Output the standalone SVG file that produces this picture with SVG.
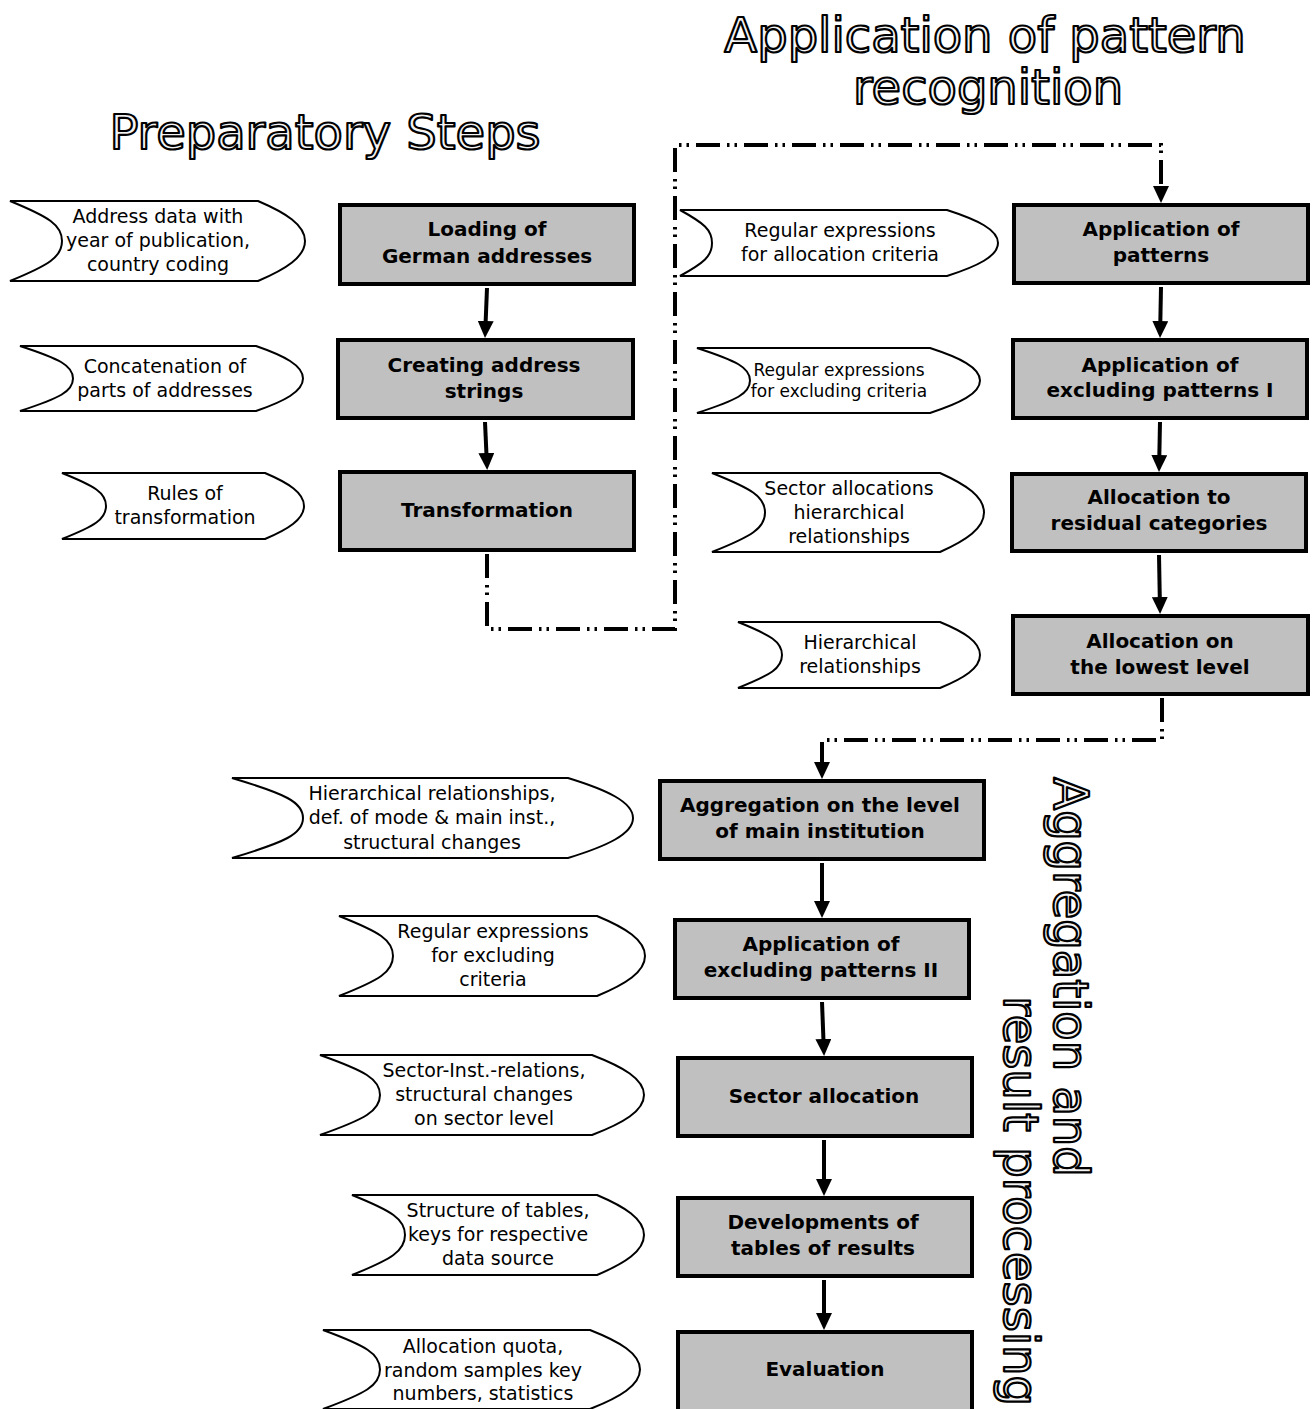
<svg xmlns="http://www.w3.org/2000/svg" width="1314" height="1409" viewBox="0 0 1314 1409">
<style>
.box{fill:#c0c0c0;stroke:#000;stroke-width:4}
.data{fill:#fff;stroke:#000;stroke-width:2}
.bt{font-family:"DejaVu Sans",sans-serif;font-weight:bold;font-size:20px;text-anchor:middle;fill:#000}
.dt{font-family:"DejaVu Sans",sans-serif;font-size:19px;text-anchor:middle;fill:#000}
.dts{font-family:"DejaVu Sans",sans-serif;font-size:17px;text-anchor:middle;fill:#000}
.title{font-family:"DejaVu Sans",sans-serif;font-size:48px;text-anchor:middle;fill:#f4f4f4;stroke:#000;stroke-width:2.2;stroke-linejoin:round}
.solid{fill:none;stroke:#000;stroke-width:4;marker-end:url(#ah)}
.dd{fill:none;stroke:#000;stroke-width:4;stroke-dasharray:24 7 2.5 5 2.5 7;marker-end:url(#ah)}
</style>
<defs>
<marker id="ah" markerUnits="userSpaceOnUse" markerWidth="17" markerHeight="16" viewBox="0 0 17 16" refX="2" refY="8" orient="auto">
<path d="M0,0 L17,8 L0,16 Z" fill="#000"/>
</marker>
</defs>
<rect width="1314" height="1409" fill="#fff"/>

<g id="titles">
<text class="title" x="985" y="52">Application of pattern</text>
<text class="title" x="988" y="104">recognition</text>
<text class="title" x="325" y="149">Preparatory Steps</text>
<text class="title" transform="rotate(90)"><tspan x="977" y="-1054">Aggregation and</tspan><tspan x="1201" y="-1004">result processing</tspan></text>
</g>

<g id="connectors">
<path class="solid" d="M487,288 L485.6,323"/>
<path class="solid" d="M485,422 L486.5,455"/>
<path class="solid" d="M1161,287 L1160.3,323"/>
<path class="solid" d="M1160,422 L1159.3,457"/>
<path class="solid" d="M1159,555 L1159.8,599"/>
<path class="solid" d="M822,863 L822,903"/>
<path class="solid" d="M822,1002 L823.5,1041"/>
<path class="solid" d="M824,1140 L824,1181"/>
<path class="solid" d="M824,1280 L824,1315"/>
<path class="dd" d="M487,554 L487,629 L675,629 L675,145 L1161,145 L1161,188"/>
<path class="dd" d="M1162,698 L1162,740 L822,740 L822,764"/>
</g>

<g id="n1"><rect class="box" x="340" y="205" width="294" height="79"/><text class="bt" x="487" y="236">Loading of</text><text class="bt" x="487" y="263">German addresses</text></g>
<g id="n2"><rect class="box" x="338" y="340" width="295" height="78"/><text class="bt" x="484" y="372">Creating address</text><text class="bt" x="484" y="398">strings</text></g>
<g id="n3"><rect class="box" x="340" y="472" width="294" height="78"/><text class="bt" x="487" y="517">Transformation</text></g>
<g id="n4"><rect class="box" x="1014" y="205" width="294" height="78"/><text class="bt" x="1161" y="236">Application of</text><text class="bt" x="1161" y="262">patterns</text></g>
<g id="n5"><rect class="box" x="1013" y="340" width="294" height="78"/><text class="bt" x="1160" y="372">Application of</text><text class="bt" x="1160" y="397">excluding patterns I</text></g>
<g id="n6"><rect class="box" x="1012" y="474" width="294" height="77"/><text class="bt" x="1159" y="504">Allocation to</text><text class="bt" x="1159" y="530">residual categories</text></g>
<g id="n7"><rect class="box" x="1013" y="616" width="295" height="78"/><text class="bt" x="1160" y="648">Allocation on</text><text class="bt" x="1160" y="674">the lowest level</text></g>
<g id="n8"><rect class="box" x="660" y="781" width="324" height="78"/><text class="bt" x="820" y="812">Aggregation on the level</text><text class="bt" x="820" y="838">of main institution</text></g>
<g id="n9"><rect class="box" x="675" y="920" width="294" height="78"/><text class="bt" x="821" y="951">Application of</text><text class="bt" x="821" y="977">excluding patterns II</text></g>
<g id="n10"><rect class="box" x="678" y="1058" width="294" height="78"/><text class="bt" x="824" y="1103">Sector allocation</text></g>
<g id="n11"><rect class="box" x="678" y="1198" width="294" height="78"/><text class="bt" x="823" y="1229">Developments of</text><text class="bt" x="823" y="1255">tables of results</text></g>
<g id="n12"><rect class="box" x="678" y="1332" width="294" height="80"/><text class="bt" x="825" y="1376">Evaluation</text></g>

<g id="d1"><path class="data" d="M10,201 L258,201 C286,213 305,225 305,241 C305,257 286,269 258,281 L10,281 C49,265 62,257 62,241 C62,225 49,217 10,201 Z"/><text class="dt" x="158" y="223">Address data with</text><text class="dt" x="158" y="247">year of publication,</text><text class="dt" x="158" y="271">country coding</text></g>
<g id="d2"><path class="data" d="M20,346 L256,346 C284.2,355.75 303,365.5 303,378.5 C303,391.5 284.2,401.25 256,411 L20,411 C59.75,398 73,391.5 73,378.5 C73,365.5 59.75,359 20,346 Z"/><text class="dt" x="165" y="373">Concatenation of</text><text class="dt" x="165" y="397">parts of addresses</text></g>
<g id="d3"><path class="data" d="M62,473 L265,473 C288.4,482.9 304,492.8 304,506 C304,519.2 288.4,529.1 265,539 L62,539 C95,525.8 106,519.2 106,506 C106,492.8 95,486.2 62,473 Z"/><text class="dt" x="185" y="500">Rules of</text><text class="dt" x="185" y="524">transformation</text></g>
<g id="d4"><path class="data" d="M680,210 L947,210 C977.6,219.9 998,229.8 998,243 C998,256.2 977.6,266.1 947,276 L680,276 C704,262.8 712,256.2 712,243 C712,229.8 704,223.2 680,210 Z"/><text class="dt" x="840" y="237">Regular expressions</text><text class="dt" x="840" y="261">for allocation criteria</text></g>
<g id="d5"><path class="data" d="M697,348 L930,348 C960,357.75 980,367.5 980,380.5 C980,393.5 960,403.25 930,413 L697,413 C736.75,400 750,393.5 750,380.5 C750,367.5 736.75,361 697,348 Z"/><text class="dts" x="839" y="376">Regular expressions</text><text class="dts" x="839" y="397">for excluding criteria</text></g>
<g id="d6"><path class="data" d="M712,473 L940,473 C966.4,484.85 984,496.7 984,512.5 C984,528.3 966.4,540.15 940,552 L712,552 C751.75,536.2 765,528.3 765,512.5 C765,496.7 751.75,488.8 712,473 Z"/><text class="dt" x="849" y="495">Sector allocations</text><text class="dt" x="849" y="519">hierarchical</text><text class="dt" x="849" y="543">relationships</text></g>
<g id="d7"><path class="data" d="M738,622 L940,622 C964,631.9 980,641.8 980,655 C980,668.2 964,678.1 940,688 L738,688 C771,674.8 782,668.2 782,655 C782,641.8 771,635.2 738,622 Z"/><text class="dt" x="860" y="649">Hierarchical</text><text class="dt" x="860" y="673">relationships</text></g>
<g id="d8"><path class="data" d="M232,778 L568,778 C607,790 633,802 633,818 C633,834 607,846 568,858 L232,858 C285.25,842 303,834 303,818 C303,802 285.25,794 232,778 Z"/><text class="dt" x="432" y="800">Hierarchical relationships,</text><text class="dt" x="432" y="824">def. of mode &amp; main inst.,</text><text class="dt" x="432" y="849">structural changes</text></g>
<g id="d9"><path class="data" d="M339,916 L597,916 C625.8,928 645,940 645,956 C645,972 625.8,984 597,996 L339,996 C379.5,980 393,972 393,956 C393,940 379.5,932 339,916 Z"/><text class="dt" x="493" y="938">Regular expressions</text><text class="dt" x="493" y="962">for excluding</text><text class="dt" x="493" y="986">criteria</text></g>
<g id="d10"><path class="data" d="M320,1055 L592,1055 C623.2,1067 644,1079 644,1095 C644,1111 623.2,1123 592,1135 L320,1135 C365,1119 380,1111 380,1095 C380,1079 365,1071 320,1055 Z"/><text class="dt" x="484" y="1077">Sector-Inst.-relations,</text><text class="dt" x="484" y="1101">structural changes</text><text class="dt" x="484" y="1125">on sector level</text></g>
<g id="d11"><path class="data" d="M352,1195 L597,1195 C625.2,1207 644,1219 644,1235 C644,1251 625.2,1263 597,1275 L352,1275 C391.75,1259 405,1251 405,1235 C405,1219 391.75,1211 352,1195 Z"/><text class="dt" x="498" y="1217">Structure of tables,</text><text class="dt" x="498" y="1241">keys for respective</text><text class="dt" x="498" y="1265">data source</text></g>
<g id="d12"><path class="data" d="M323,1330 L590,1330 C620,1341.85 640,1353.7 640,1369.5 C640,1385.3 620,1397.15 590,1409 L323,1409 C365.75,1393.2 380,1385.3 380,1369.5 C380,1353.7 365.75,1345.8 323,1330 Z"/><text class="dt" x="483" y="1353">Allocation quota,</text><text class="dt" x="483" y="1377">random samples key</text><text class="dt" x="483" y="1400">numbers, statistics</text></g>
</svg>
